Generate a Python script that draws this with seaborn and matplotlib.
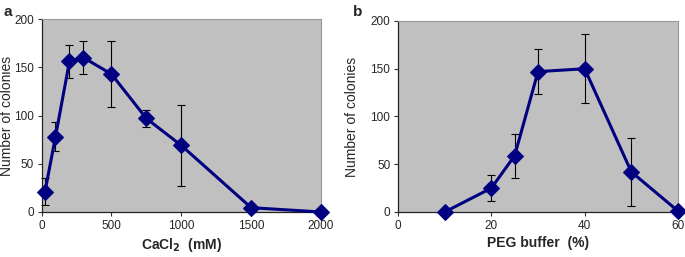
import numpy as np
import pandas as pd
import matplotlib
matplotlib.use("Agg")
import matplotlib.pyplot as plt
import seaborn as sns

# panel a: CaCl2 concentration
cacl2_mm = [25, 100, 200, 300, 500, 750, 1000, 1500, 2000]
cacl2_colonies = [21, 78, 156, 160, 143, 97, 69, 4.5, 0]
cacl2_err = [14, 15, 17, 17, 34, 9, 42, 0, 0]

# panel b: PEG buffer
peg_pct = [10, 20, 25, 30, 40, 50, 60]
peg_colonies = [0, 25, 59, 147, 150, 42, 1]
peg_err = [0, 14, 23, 23.5, 36, 36, 0]

sns.set_style("ticks")
plt.rcParams['font.family'] = ['Liberation Sans', 'DejaVu Sans']

fig = plt.figure(figsize=(6.85, 2.57), dpi=100)
ax_a = fig.add_axes([41.5 / 685, 45 / 257, 279.5 / 685, 193 / 257])
ax_b = fig.add_axes([398 / 685, 45 / 257, 280 / 685, 191 / 257])

navy = "#000080"


def draw(ax, x, y, err, xlim, xticks, xlabel, ylab_x):
    df = pd.DataFrame({"x": x, "y": y})
    ax.set_facecolor("#c0c0c0")
    ax.errorbar(x, y, yerr=err, fmt="none", ecolor="black", elinewidth=0.8,
                capsize=3, capthick=0.8, zorder=2)
    sns.lineplot(data=df, x="x", y="y", ax=ax, color=navy, linewidth=2.2,
                 marker="D", markersize=8, markeredgecolor=navy, zorder=3)
    ax.set_xlim(*xlim)
    ax.set_ylim(0, 200)
    ax.set_xticks(xticks)
    ax.set_yticks([0, 50, 100, 150, 200])
    ax.tick_params(labelsize=8.5, length=3, width=0.8, color="#333333", pad=2.5)
    for side in ["top", "right"]:
        ax.spines[side].set_color("#999999")
        ax.spines[side].set_linewidth(0.8)
    for side in ["left", "bottom"]:
        ax.spines[side].set_color("#222222")
        ax.spines[side].set_linewidth(0.9)
    ax.set_xlabel(xlabel, fontsize=10, fontweight="bold", labelpad=3)
    ax.set_ylabel("Number of colonies", fontsize=10)
    ax.yaxis.set_label_coords(ylab_x, 0.5)


draw(ax_a, cacl2_mm, cacl2_colonies, cacl2_err, (0, 2000),
     [0, 500, 1000, 1500, 2000], "CaCl$_\\mathbf{2}$  (mM)", -0.1)
draw(ax_b, peg_pct, peg_colonies, peg_err, (0, 60),
     [0, 20, 40, 60], "PEG buffer  (%)", -0.14)

for ax in (ax_a, ax_b):
    for line in ax.lines:
        line.set_clip_on(False)

fig.text(4 / 685, 1 - 12 / 257, "a", fontsize=11, fontweight="bold", va="center")
fig.text(353 / 685, 1 - 12 / 257, "b", fontsize=11, fontweight="bold", va="center")

fig.savefig("out.png", dpi=100)
